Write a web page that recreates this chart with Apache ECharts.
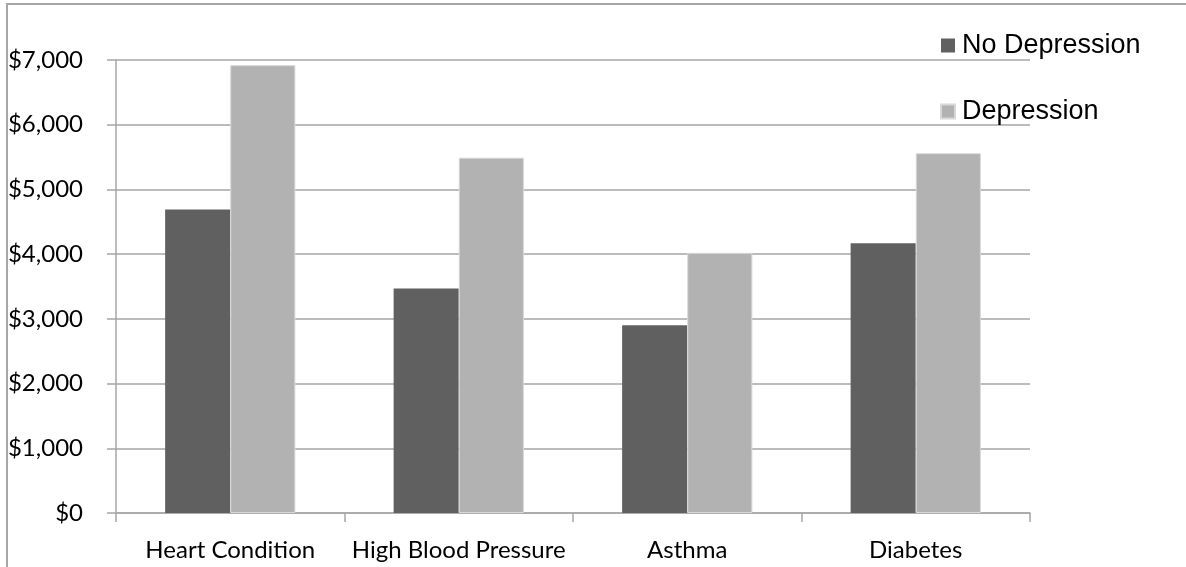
<!DOCTYPE html>
<html>
<head>
<meta charset="utf-8">
<script src="https://cdn.jsdelivr.net/npm/echarts@6/dist/echarts.min.js"></script>
<style>
html,body{margin:0;padding:0;background:#fff;}
#chart{width:1186px;height:567px;}
</style>
</head>
<body>
<div id="chart"></div>
<script>
const categories = ['Heart Condition', 'High Blood Pressure', 'Asthma', 'Diabetes'];
const noDepression = [4690, 3470, 2900, 4170];
const depression = [6920, 5490, 4020, 5560];
const seriesNames = ['No Depression', 'Depression'];

const chart = echarts.init(document.getElementById('chart'));
chart.setOption({
  animation: false,
  backgroundColor: '#ffffff',
  graphic: [{
    type: 'polyline',
    shape: { points: [[7, 567], [7, 4], [1186, 4]] },
    style: { stroke: '#a6a6a6', lineWidth: 2, fill: null }
  }],
  grid: { left: 116, right: 156, top: 60, bottom: 54 },
  legend: {
    orient: 'vertical',
    left: 940,
    top: 32,
    padding: 0,
    itemGap: 39,
    itemWidth: 14,
    itemHeight: 14,
    icon: 'rect',
    data: seriesNames,
    textStyle: {
      fontFamily: 'Liberation Sans, Arial, sans-serif',
      fontSize: 27,
      lineHeight: 27,
      color: '#000',
      padding: [0, 0, 0, 2]
    }
  },
  xAxis: {
    type: 'category',
    data: categories,
    axisLine: { lineStyle: { color: '#a6a6a6', width: 1.5 } },
    axisTick: { show: true, length: 9, interval: 0, lineStyle: { color: '#a6a6a6', width: 1.5 } },
    axisLabel: { interval: 0, color: '#000', fontFamily: 'Lato, sans-serif', fontSize: 24, margin: 25 }
  },
  yAxis: {
    type: 'value',
    min: 0,
    max: 7000,
    interval: 1000,
    axisLine: { show: true, lineStyle: { color: '#a6a6a6', width: 1.5 } },
    axisTick: { show: true, length: 9, lineStyle: { color: '#a6a6a6', width: 1.5 } },
    splitLine: { lineStyle: { color: '#a6a6a6', width: 1.5 } },
    axisLabel: {
      color: '#000', fontFamily: 'Lato, sans-serif', fontSize: 24, margin: 33,
      formatter: v => '$' + v.toLocaleString('en-US')
    }
  },
  series: [
    {
      name: seriesNames[0], type: 'bar', data: noDepression,
      barGap: '0%', barCategoryGap: '43%',
      itemStyle: { color: '#606060' }
    },
    {
      name: seriesNames[1], type: 'bar', data: depression,
      barGap: '0%', barCategoryGap: '43%',
      itemStyle: { color: '#b2b2b2', borderColor: '#d8d8d8', borderWidth: 1 }
    }
  ]
});
</script>
</body>
</html>
